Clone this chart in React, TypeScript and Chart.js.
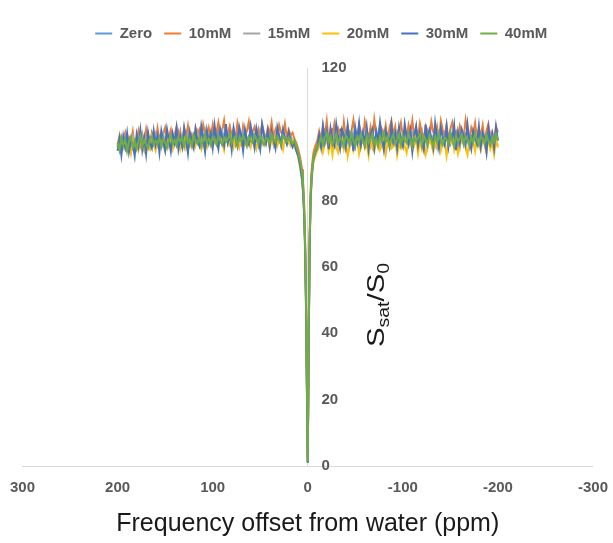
import { useEffect, useRef } from "react";
import { Chart, registerables } from "chart.js";

Chart.register(...registerables);

const FONT = "'Liberation Sans', Arial, sans-serif";

const SERIES_NAMES = ["Zero", "10mM", "15mM", "20mM", "30mM", "40mM"];
const SERIES_COLORS = ["#5B9BD5", "#ED7D31", "#A5A5A5", "#FFC000", "#4472C4", "#70AD47"];

const X_MIN = -300;
const X_MAX = 300;
const X_STEP = 100;
const Y_MIN = 0;
const Y_MAX = 120;
const Y_STEP = 20;

const OFFSETS_LEFT = [
  200, 198, 196, 194, 192, 190, 188, 186, 184, 182,
  180, 178, 176, 174, 172, 170, 168, 166, 164, 162,
  160, 158, 156, 154, 152, 150, 148, 146, 144, 142,
  140, 138, 136, 134, 132, 130, 128, 126, 124, 122,
  120, 118, 116, 114, 112, 110, 108, 106, 104, 102,
  100, 98, 96, 94, 92, 90, 88, 86, 84, 82,
  80, 78, 76, 74, 72, 70, 68, 66, 64, 62,
  60, 58, 56, 54, 52, 50, 48, 46, 44, 42,
  40, 38, 36, 34, 32, 30, 28, 26, 24, 22,
  20, 18, 16, 14, 12,
];
const OFFSETS_CENTER = [10, 8, 6, 5, 4, 3, 2, 1, 0, -1, -2, -3, -4, -5, -6, -8, -10];
const OFFSETS_RIGHT = [
  -12, -14, -16, -18, -20, -22, -24, -26, -28, -30,
  -32, -34, -36, -38, -40, -42, -44, -46, -48, -50,
  -52, -54, -56, -58, -60, -62, -64, -66, -68, -70,
  -72, -74, -76, -78, -80, -82, -84, -86, -88, -90,
  -92, -94, -96, -98, -100, -102, -104, -106, -108, -110,
  -112, -114, -116, -118, -120, -122, -124, -126, -128, -130,
  -132, -134, -136, -138, -140, -142, -144, -146, -148, -150,
  -152, -154, -156, -158, -160, -162, -164, -166, -168, -170,
  -172, -174, -176, -178, -180, -182, -184, -186, -188, -190,
  -192, -194, -196, -198, -200,
];
const OFFSETS = [...OFFSETS_LEFT, ...OFFSETS_CENTER, ...OFFSETS_RIGHT];

const ZERO = [
  96.2, 98.9, 95.4, 97.8, 99.6, 96.0, 98.3, 95.7, 99.1, 97.2,
  98.7, 96.5, 99.9, 97.4, 95.9, 98.6, 100.2, 96.8, 98.0, 99.4,
  96.3, 99.0, 97.7, 100.4, 96.9, 98.5, 99.7, 97.1, 100.0, 96.6,
  98.8, 97.3, 100.6, 98.1, 96.4, 99.5, 98.4, 100.9, 97.0, 99.2,
  97.6, 100.3, 98.9, 96.7, 99.8, 98.2, 101.0, 97.5, 99.3, 98.0,
  100.5, 97.8, 99.1, 101.2, 98.3, 96.9, 100.0, 99.4, 97.4, 100.7,
  98.6, 99.9, 97.2, 100.8, 98.1, 99.6, 96.8, 100.1, 98.7, 99.0,
  97.5, 100.4, 98.8, 99.7, 96.9, 100.9, 98.0, 99.3, 97.7, 100.2,
  98.5, 99.8, 97.1, 100.6, 98.3, 99.1, 97.6, 100.0, 98.9, 97.3,
  99.5, 98.1, 97.4, 96.8, 95.6,
  94.0, 91.0, 87.0, 83.5, 78.0, 69.0, 53.5, 27.5, 1.0, 37.5, 67.5, 80.5, 87.0, 90.5, 92.5, 94.5, 96.0,
  97.0, 99.5, 96.6, 100.2, 98.1, 96.3, 99.8, 97.4, 100.6, 96.9,
  98.7, 100.0, 97.2, 99.3, 95.8, 98.9, 100.5, 97.6, 99.1, 96.4,
  100.3, 98.0, 96.7, 99.9, 97.8, 100.7, 96.2, 98.6, 99.4, 97.1,
  99.7, 96.5, 100.1, 98.3, 97.0, 100.8, 98.8, 96.1, 99.6, 97.9,
  98.2, 100.4, 96.8, 99.2, 97.5, 100.9, 98.5, 96.6, 99.8, 98.0,
  96.9, 100.2, 97.7, 99.0, 101.0, 97.3, 98.9, 96.4, 100.6, 98.4,
  97.6, 99.7, 96.3, 100.3, 98.6, 97.1, 99.5, 100.8, 96.7, 98.1,
  100.0, 97.4, 99.2, 96.5, 100.7, 98.3, 97.0, 99.9, 98.8, 96.2,
  99.4, 97.8, 100.5, 98.0, 96.6, 99.6, 100.9, 97.2, 98.7, 99.1,
  96.8, 100.1, 97.5, 99.3, 98.2,
];

const MM10 = [
  96.8, 99.5, 95.1, 98.2, 100.4, 96.5, 99.0, 97.4, 100.8, 95.9,
  98.6, 101.1, 96.9, 99.8, 97.6, 101.5, 98.0, 96.2, 100.6, 99.1,
  97.3, 101.9, 98.5, 96.7, 100.2, 102.0, 97.9, 99.4, 101.3, 96.4,
  99.7, 102.3, 98.1, 100.9, 97.0, 101.7, 99.3, 102.6, 98.4, 100.0,
  97.5, 102.1, 99.9, 101.4, 98.3, 103.0, 100.5, 97.8, 101.8, 99.2,
  102.8, 98.7, 100.7, 103.5, 99.0, 101.2, 104.2, 98.9, 100.3, 102.5,
  99.6, 101.6, 98.2, 103.3, 100.1, 97.7, 102.4, 99.5, 101.0, 103.8,
  98.6, 100.9, 102.2, 99.3, 101.5, 97.9, 103.1, 100.4, 98.8, 102.0,
  100.2, 103.6, 99.1, 101.3, 98.4, 102.7, 100.6, 99.8, 103.2, 98.9,
  101.4, 99.7, 100.5, 98.6, 97.4,
  95.5, 93.0, 89.5, 86.0, 81.0, 72.0, 56.0, 30.0, 2.0, 40.0, 70.0, 83.0, 89.0, 92.0, 94.5, 96.5, 98.0,
  100.9, 98.2, 102.6, 99.4, 104.0, 97.8, 101.5, 99.9, 103.2, 98.5,
  101.8, 100.3, 97.6, 103.7, 99.1, 102.4, 98.8, 101.0, 104.3, 99.6,
  97.9, 102.9, 100.6, 98.3, 103.9, 101.2, 99.0, 102.1, 97.5, 104.4,
  100.0, 98.7, 103.0, 101.6, 99.3, 102.7, 98.1, 101.9, 104.1, 99.8,
  102.3, 97.7, 100.8, 103.5, 99.5, 101.4, 98.4, 102.8, 100.2, 104.2,
  98.9, 101.7, 99.2, 103.3, 100.5, 97.8, 102.5, 101.1, 98.6, 103.8,
  100.7, 99.4, 102.2, 98.0, 104.0, 101.3, 99.7, 102.9, 98.2, 101.6,
  103.6, 99.9, 100.9, 97.9, 102.6, 101.0, 99.1, 104.3, 100.4, 98.5,
  102.0, 100.1, 103.4, 98.8, 101.5, 99.6, 102.7, 97.6, 101.2, 103.1,
  99.3, 100.8, 98.1, 102.4, 100.6,
];

const MM15 = [
  97.0, 95.5, 98.8, 96.3, 99.2, 95.9, 98.0, 96.6, 99.5, 97.3,
  96.0, 98.9, 97.5, 100.0, 96.4, 98.3, 99.6, 96.8, 98.6, 97.1,
  99.9, 96.7, 98.4, 97.6, 100.3, 96.9, 99.1, 98.0, 96.2, 99.7,
  97.8, 100.5, 98.2, 96.5, 99.4, 98.7, 97.2, 100.1, 98.9, 96.8,
  99.3, 98.1, 100.6, 97.4, 99.8, 96.6, 98.5, 100.2, 97.7, 99.0,
  98.4, 100.8, 97.3, 99.5, 98.0, 101.0, 97.9, 99.2, 100.4, 98.6,
  97.1, 100.0, 98.8, 96.9, 99.7, 98.2, 100.7, 97.5, 99.1, 98.5,
  100.3, 97.8, 99.4, 98.9, 96.7, 100.1, 98.3, 99.8, 97.6, 100.5,
  98.1, 99.3, 97.2, 100.2, 98.7, 99.6, 97.9, 100.0, 98.4, 99.0,
  97.6, 99.5, 98.2, 97.3, 96.4,
  94.0, 91.5, 87.5, 84.0, 78.5, 69.5, 53.0, 27.0, 1.2, 37.0, 67.0, 80.5, 87.0, 90.0, 92.5, 94.5, 96.0,
  98.0, 96.3, 99.7, 97.5, 100.4, 96.9, 99.0, 97.8, 100.1, 96.5,
  99.4, 98.2, 96.7, 100.6, 97.6, 99.8, 96.2, 98.9, 100.3, 97.3,
  99.1, 96.8, 100.0, 98.5, 97.0, 100.7, 98.1, 96.4, 99.6, 98.8,
  97.4, 100.2, 96.9, 99.3, 98.0, 100.9, 97.7, 99.5, 96.6, 98.7,
  100.4, 97.2, 99.9, 98.3, 96.5, 100.1, 98.6, 97.1, 99.7, 100.5,
  97.9, 99.2, 96.7, 100.3, 98.4, 97.5, 99.8, 96.3, 100.0, 98.1,
  99.6, 97.0, 100.6, 98.7, 96.8, 99.3, 97.8, 100.2, 98.0, 96.9,
  100.5, 98.3, 97.3, 99.9, 96.4, 100.8, 98.9, 97.6, 99.4, 98.2,
  96.6, 100.0, 98.5, 97.2, 99.7, 100.4, 97.9, 99.1, 96.9, 98.6,
  100.1, 97.4, 99.5, 98.0, 96.7,
];

const MM20 = [
  96.0, 98.3, 94.6, 97.5, 95.8, 99.0, 96.7, 94.2, 98.1, 96.4,
  97.8, 95.3, 98.8, 96.1, 94.9, 98.5, 97.0, 95.6, 99.2, 96.8,
  95.1, 98.0, 96.5, 99.4, 97.2, 94.8, 98.6, 96.3, 97.9, 95.7,
  99.1, 96.9, 98.2, 95.4, 97.6, 99.5, 96.0, 98.4, 97.1, 95.9,
  98.9, 96.6, 99.3, 97.4, 95.5, 98.7, 97.8, 96.2, 99.6, 97.0,
  95.8, 98.1, 99.0, 96.4, 98.5, 97.3, 95.2, 99.7, 97.6, 96.7,
  98.8, 96.1, 99.2, 97.9, 95.9, 98.3, 99.4, 96.8, 97.5, 98.9,
  96.3, 99.1, 97.7, 95.6, 98.6, 99.8, 96.9, 98.0, 97.2, 99.3,
  95.7, 98.4, 97.0, 99.5, 96.5, 98.2, 97.8, 95.4, 99.0, 97.4,
  98.1, 96.6, 97.9, 96.0, 95.2,
  93.0, 90.0, 86.0, 82.5, 77.5, 68.0, 52.5, 26.0, 1.0, 36.0, 66.5, 79.5, 86.0, 89.5, 91.5, 93.5, 95.0,
  96.2, 98.5, 94.7, 97.3, 99.1, 95.0, 97.9, 93.8, 98.2, 96.4,
  94.5, 97.7, 99.3, 95.6, 98.0, 93.4, 96.8, 99.0, 95.2, 97.5,
  98.6, 94.1, 96.9, 99.4, 95.8, 97.2, 93.6, 98.3, 96.0, 94.8,
  97.8, 99.2, 95.3, 96.6, 98.7, 94.0, 97.4, 99.5, 95.7, 96.3,
  98.9, 93.7, 97.0, 95.9, 99.1, 96.5, 94.4, 98.1, 97.6, 95.1,
  96.7, 99.0, 94.3, 97.9, 95.5, 98.4, 93.9, 96.2, 99.3, 97.1,
  94.6, 98.0, 96.4, 99.4, 95.0, 97.3, 98.8, 93.5, 96.9, 97.7,
  99.2, 95.4, 98.2, 94.2, 96.6, 99.0, 97.5, 95.8, 93.8, 98.5,
  96.1, 97.9, 94.9, 99.3, 96.8, 95.2, 98.6, 97.0, 94.5, 99.1,
  95.6, 97.4, 93.9, 98.3, 96.0,
];

const MM30 = [
  95.0, 98.6, 93.8, 99.4, 96.2, 100.3, 94.7, 98.1, 97.0, 93.5,
  99.8, 96.4, 101.2, 95.3, 98.9, 94.1, 100.6, 97.2, 95.8, 101.0,
  96.9, 99.5, 94.6, 100.9, 97.7, 95.2, 101.5, 98.3, 94.9, 100.2,
  97.4, 101.8, 95.6, 99.1, 96.3, 102.0, 98.7, 94.4, 100.7, 97.9,
  95.9, 101.3, 98.0, 96.6, 102.4, 99.0, 94.8, 101.1, 97.5, 100.4,
  96.1, 102.7, 98.4, 95.7, 101.6, 99.3, 96.8, 103.1, 97.6, 100.0,
  95.4, 101.9, 98.8, 96.5, 102.2, 99.7, 95.1, 101.4, 98.1, 96.9,
  102.5, 99.2, 96.0, 101.7, 98.5, 95.5, 102.9, 99.6, 97.3, 101.0,
  96.4, 100.8, 98.2, 95.8, 102.1, 99.4, 96.7, 101.5, 98.9, 97.1,
  100.6, 98.0, 96.2, 97.8, 95.0,
  93.5, 90.5, 86.5, 83.0, 77.0, 67.5, 51.0, 25.0, 1.0, 35.0, 66.0, 80.0, 86.5, 90.0, 92.5, 94.5, 96.0,
  99.6, 96.2, 102.4, 97.8, 100.9, 95.5, 101.7, 98.3, 96.6, 103.0,
  98.9, 95.8, 101.4, 99.7, 96.4, 102.6, 97.5, 100.2, 94.9, 101.8,
  98.0, 103.2, 96.9, 100.5, 97.3, 102.1, 95.6, 99.9, 101.6, 96.1,
  100.8, 97.6, 103.4, 98.6, 95.3, 101.2, 99.1, 96.8, 102.8, 97.9,
  100.3, 95.9, 102.0, 98.4, 96.5, 103.1, 99.5, 97.2, 101.0, 94.8,
  99.8, 102.5, 96.7, 100.6, 98.1, 95.4, 102.9, 97.7, 101.3, 99.0,
  96.0, 103.3, 98.8, 95.7, 101.9, 99.3, 97.0, 102.3, 96.3, 100.1,
  98.5, 102.7, 95.2, 100.7, 97.4, 101.5, 99.6, 96.9, 103.0, 98.2,
  95.6, 101.1, 99.2, 97.1, 102.4, 96.4, 100.4, 98.7, 94.6, 101.8,
  97.5, 100.0, 95.9, 102.2, 98.1,
];

const MM40 = [
  97.5, 95.2, 99.1, 96.8, 98.4, 94.9, 97.7, 99.3, 96.1, 98.0,
  95.6, 97.9, 99.6, 96.4, 98.2, 97.0, 95.8, 98.7, 99.4, 96.9,
  98.1, 97.3, 99.0, 96.2, 98.8, 97.6, 95.9, 98.5, 99.7, 97.1,
  98.3, 96.6, 99.2, 97.8, 98.9, 96.3, 99.5, 97.4, 98.6, 96.7,
  99.8, 98.0, 97.2, 99.1, 96.5, 98.4, 99.9, 97.5, 98.7, 96.8,
  99.3, 98.1, 97.0, 99.6, 98.2, 96.9, 99.0, 97.7, 98.5, 100.1,
  97.3, 98.8, 99.4, 96.6, 98.9, 97.9, 99.7, 98.3, 96.4, 99.2,
  98.0, 97.5, 99.8, 98.6, 97.1, 99.5, 98.2, 96.8, 99.0, 98.7,
  97.4, 99.9, 98.4, 97.6, 99.3, 98.1, 96.9, 99.6, 98.5, 97.8,
  99.1, 98.3, 97.2, 98.0, 96.5,
  94.5, 92.0, 88.5, 85.0, 79.5, 70.0, 54.0, 28.0, 1.5, 38.0, 68.0, 81.0, 87.5, 90.5, 93.0, 95.0, 96.5,
  97.4, 99.2, 96.8, 98.9, 100.3, 97.6, 99.5, 96.9, 98.4, 100.1,
  97.2, 99.0, 98.1, 96.5, 99.7, 98.6, 97.3, 100.4, 98.0, 96.7,
  99.3, 97.8, 100.0, 98.2, 96.4, 99.6, 97.5, 98.8, 100.2, 97.1,
  98.5, 96.6, 99.4, 98.0, 100.5, 97.7, 99.1, 96.8, 98.7, 99.9,
  97.0, 98.3, 100.1, 96.9, 99.5, 98.1, 97.4, 100.3, 98.6, 96.3,
  99.2, 97.9, 98.8, 100.0, 96.7, 99.6, 98.2, 97.1, 99.8, 98.4,
  96.5, 99.3, 97.6, 100.2, 98.0, 96.8, 99.0, 98.5, 97.2, 100.4,
  98.1, 96.4, 99.7, 97.8, 98.9, 100.0, 97.0, 99.4, 98.3, 96.6,
  99.1, 97.5, 100.3, 98.2, 96.9, 99.5, 98.7, 97.3, 99.9, 98.0,
  96.8, 99.2, 97.7, 100.1, 98.4,
];

const SERIES_VALUES = [ZERO, MM10, MM15, MM20, MM30, MM40];

const X_TITLE = "Frequency offset from water (ppm)";
const Y_TITLE_PARTS: { text: string; sub: boolean }[] = [
  { text: "S", sub: false },
  { text: "sat", sub: true },
  { text: "/S", sub: false },
  { text: "0", sub: true },
];

const yTitlePlugin = {
  id: "yTitleSub",
  afterDraw(chart: any) {
    const { ctx, scales } = chart;
    const xs = scales.x;
    const ys = scales.y;
    const main = 24;
    const sub = 16;
    const stretch = 1.22;
    const cx = xs.getPixelForValue(0) + 76;
    const cy = (ys.top + ys.bottom) / 2 + 38;
    ctx.save();
    ctx.translate(cx, cy);
    ctx.rotate(-Math.PI / 2);
    ctx.scale(stretch, 1);
    ctx.fillStyle = "#1a1a1a";
    ctx.textBaseline = "alphabetic";
    ctx.textAlign = "left";
    let total = 0;
    for (const p of Y_TITLE_PARTS) {
      ctx.font = `${p.sub ? sub : main}px ${FONT}`;
      total += ctx.measureText(p.text).width;
    }
    let x = -total / 2;
    for (const p of Y_TITLE_PARTS) {
      ctx.font = `${p.sub ? sub : main}px ${FONT}`;
      ctx.fillText(p.text, x, p.sub ? 5 : 0);
      x += ctx.measureText(p.text).width;
    }
    ctx.restore();
  },
};

const LEGEND_EXTRA_BOTTOM = 17;
const legendShiftPlugin = {
  id: "legendShift",
  afterInit(chart: any) {
    const lg = chart.legend;
    if (lg && !lg.__patched) {
      const orig = lg.fit.bind(lg);
      lg.fit = function () {
        orig();
        this.height += LEGEND_EXTRA_BOTTOM;
      };
      lg.__patched = true;
    }
  },
  afterLayout(chart: any) {
    if (chart.legend) {
      chart.legend.left += 13;
      chart.legend.right += 13;
    }
  },
};

export default function App() {
  const ref = useRef<HTMLCanvasElement | null>(null);

  useEffect(() => {
    document.body.style.margin = "0";
    const canvas = ref.current;
    if (!canvas) return;
    const datasets = SERIES_NAMES.map((name, i) => ({
      label: name,
      data: OFFSETS.map((x, j) => ({ x, y: SERIES_VALUES[i][j] })),
      borderColor: SERIES_COLORS[i],
      backgroundColor: SERIES_COLORS[i],
      borderWidth: 2,
      pointRadius: 0,
      pointHoverRadius: 0,
      tension: 0,
      fill: false,
      order: SERIES_NAMES.length - 1 - i,
    }));

    const chart = new Chart(canvas, {
      type: "line",
      data: { datasets },
      options: {
        responsive: false,
        animation: false,
        layout: { padding: { left: 22.5, right: 19, top: 14, bottom: 4 } },
        plugins: {
          legend: {
            position: "top",
            labels: {
              usePointStyle: true,
              pointStyle: "line",
              pointStyleWidth: 17,
              padding: 12,
              color: "#595959",
              font: { family: FONT, size: 15, weight: "bold" },
              sort: (a: any, b: any) => a.datasetIndex - b.datasetIndex,
            },
          },
          tooltip: { enabled: false },
        },
        scales: {
          x: {
            type: "linear",
            min: X_MIN,
            max: X_MAX,
            reverse: true,
            grid: { display: false },
            border: { display: true, color: "#D9D9D9", width: 1 },
            ticks: {
              stepSize: X_STEP,
              color: "#595959",
              padding: 5,
              font: { family: FONT, size: 15, weight: "bold" },
            },
            title: {
              display: true,
              text: X_TITLE,
              color: "#1a1a1a",
              padding: { top: 7, bottom: 0 },
              font: { family: FONT, size: 25 },
            },
          },
          y: {
            type: "linear",
            min: Y_MIN,
            max: Y_MAX,
            position: { x: 0 },
            grid: { display: false },
            border: { display: true, color: "#D9D9D9", width: 1 },
            ticks: { display: false, stepSize: Y_STEP },
          },
          yLabels: {
            type: "linear",
            min: Y_MIN,
            max: Y_MAX,
            position: "left",
            grid: { display: false, drawTicks: false },
            border: { display: false },
            afterFit: (scale: any) => {
              scale.width = 0;
              scale.paddingTop = 0;
              scale.paddingBottom = 0;
              scale.paddingLeft = 0;
              scale.paddingRight = 0;
            },
            ticks: {
              stepSize: Y_STEP,
              mirror: true,
              padding: 299,
              color: "#595959",
              font: { family: FONT, size: 15, weight: "bold" },
            },
          },
        },
      },
      plugins: [yTitlePlugin, legendShiftPlugin],
    });
    return () => chart.destroy();
  }, []);

  return (
    <div style={{ width: 613, height: 543 }}>
      <canvas ref={ref} width={613} height={543} />
    </div>
  );
}
